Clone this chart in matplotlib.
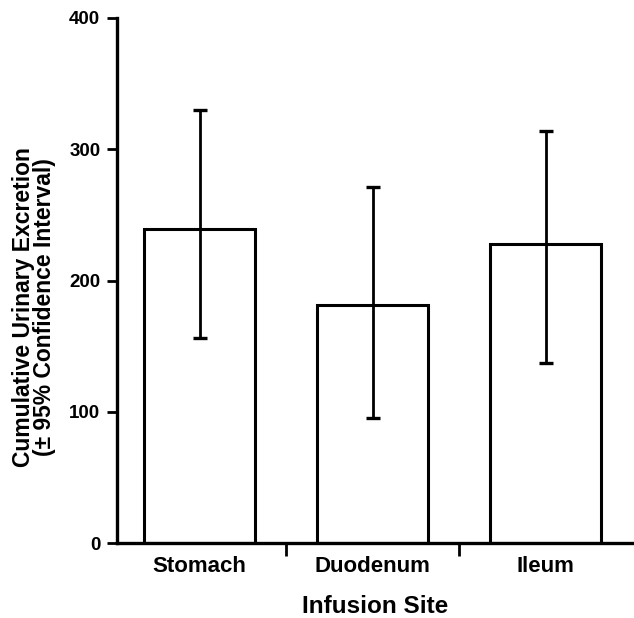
import matplotlib
matplotlib.use("Agg")
import matplotlib.pyplot as plt
from matplotlib.ticker import FixedLocator

sites = ["Stomach", "Duodenum", "Ileum"]
excretion = [239, 181, 228]
ci_low = [156, 95, 137]
ci_high = [330, 271, 314]
y_ticks = [0, 100, 200, 300, 400]

plt.rcParams['font.family'] = ['Liberation Sans', 'DejaVu Sans']
plt.rcParams['font.weight'] = 'bold'

fig = plt.figure(figsize=(6.34, 6.18), dpi=100)
ax = fig.add_axes([117 / 634, 75 / 618, 1 - 117 / 634, 525 / 618])

x = list(range(len(sites)))
err_lo = [m - lo for m, lo in zip(excretion, ci_low)]
err_hi = [hi - m for m, hi in zip(excretion, ci_high)]

ax.bar(x, excretion, width=0.64, color='white', edgecolor='black', linewidth=2.2, zorder=2)
ax.errorbar(x, excretion, yerr=[err_lo, err_hi], fmt='none', ecolor='black',
            elinewidth=2.0, capsize=4.8, capthick=2.4, zorder=3)

ax.set_xlim(-0.477, 2.509)
ax.set_ylim(0, 400)
ax.set_yticks(y_ticks)
ax.set_xticks(x)
ax.set_xticklabels(sites, fontsize=16, fontweight='bold')
ax.xaxis.set_minor_locator(FixedLocator([0.5, 1.5]))
ax.tick_params(axis='x', which='major', length=0, pad=9)
ax.tick_params(axis='x', which='minor', length=9, width=2, direction='out')
ax.tick_params(axis='y', length=7, width=2, direction='out', labelsize=13.5, pad=5)
for lab in ax.get_yticklabels():
    lab.set_fontweight('bold')

for side in ['top', 'right']:
    ax.spines[side].set_visible(False)
for side in ['left', 'bottom']:
    ax.spines[side].set_linewidth(2.4)

ax.set_xlabel('Infusion Site', fontsize=17.5, fontweight='bold', labelpad=13)
ax.set_ylabel('Cumulative Urinary Excretion\n(\u00b1 95% Confidence Interval)',
              fontsize=16.5, fontweight='bold', linespacing=0.9)
ax.yaxis.set_label_coords(-0.118, 0.45)

fig.savefig('out.png', dpi=100)
